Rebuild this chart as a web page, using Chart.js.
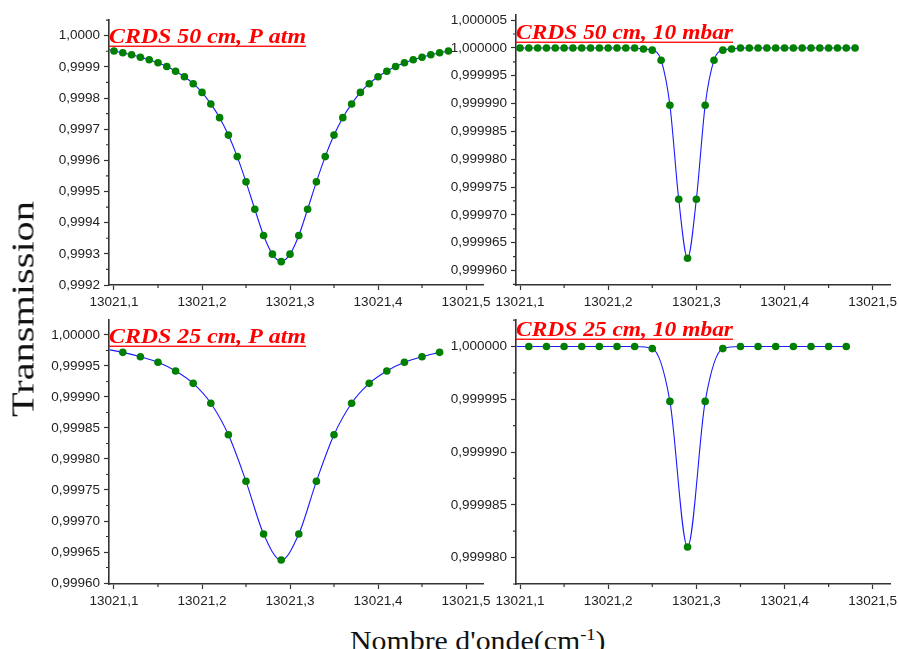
<!DOCTYPE html>
<html>
<head>
<meta charset="utf-8">
<script src="https://cdn.jsdelivr.net/npm/chart.js@4.4.0/dist/chart.umd.min.js"></script>
<style>
  body { margin: 0; background: #fff; width: 899px; height: 649px; overflow: hidden; position: relative; }
  .box { position: absolute; }
  .axt { position: absolute; left: 0; top: 0; transform-origin: 0 0; line-height: 1;
         font-family: 'Liberation Serif', 'DejaVu Serif', serif; color: #111; white-space: nowrap; }
  .axt sup { font-size: 62%; vertical-align: 0.55em; line-height: 0; }
</style>
</head>
<body>
<div class="box" id="b1"><canvas id="c1"></canvas></div>
<div class="box" id="b2"><canvas id="c2"></canvas></div>
<div class="box" id="b3"><canvas id="c3"></canvas></div>
<div class="box" id="b4"><canvas id="c4"></canvas></div>
<div class="axt" id="ytitle" style="font-size:31px">Transmission</div>
<div class="axt" id="xtitle" style="font-size:28px">Nombre d'onde(cm<sup>-1</sup>)</div>

<script>
// wavenumber grids (cm-1)
const xFine = [13021.10, 13021.11, 13021.12, 13021.13, 13021.14, 13021.15, 13021.16, 13021.17,
  13021.18, 13021.19, 13021.20, 13021.21, 13021.22, 13021.23, 13021.24, 13021.25, 13021.26,
  13021.27, 13021.28, 13021.29, 13021.30, 13021.31, 13021.32, 13021.33, 13021.34, 13021.35,
  13021.36, 13021.37, 13021.38, 13021.39, 13021.40, 13021.41, 13021.42, 13021.43, 13021.44,
  13021.45, 13021.46, 13021.47, 13021.48];
const xCoarse = [13021.11, 13021.13, 13021.15, 13021.17, 13021.19, 13021.21, 13021.23, 13021.25,
  13021.27, 13021.29, 13021.31, 13021.33, 13021.35, 13021.37, 13021.39, 13021.41, 13021.43,
  13021.45, 13021.47];

// CRDS 50 cm, P atm
const trans50atm = [0.999951, 0.999945, 0.999939, 0.999931, 0.999923, 0.999913, 0.999901, 0.999886,
  0.999868, 0.999846, 0.999818, 0.999781, 0.999737, 0.999681, 0.999612, 0.999531, 0.999443,
  0.999359, 0.999299, 0.999275, 0.999299, 0.999359, 0.999443, 0.999531, 0.999612, 0.999681,
  0.999737, 0.999781, 0.999818, 0.999846, 0.999868, 0.999886, 0.999901, 0.999913, 0.999923,
  0.999931, 0.999939, 0.999945, 0.999951];
// CRDS 50 cm, 10 mbar
const trans50mbar = [1.0, 1.0, 1.0, 1.0, 1.0, 1.0, 1.0, 1.0, 1.0, 1.0, 1.0, 1.0, 1.0, 1.0,
  0.9999998, 0.9999996, 0.9999978, 0.9999897, 0.9999728, 0.9999622, 0.9999728, 0.9999897,
  0.9999978, 0.9999996, 0.9999998,
  1.0, 1.0, 1.0, 1.0, 1.0, 1.0, 1.0, 1.0, 1.0, 1.0, 1.0, 1.0, 1.0, 1.0];
// CRDS 25 cm, P atm
const trans25atm = [0.999972, 0.999965, 0.999956, 0.999942, 0.999922, 0.999890, 0.999839, 0.999764,
  0.999679, 0.999637, 0.999679, 0.999764, 0.999839, 0.999890, 0.999922, 0.999942, 0.999956,
  0.999965, 0.999972];
// CRDS 25 cm, 10 mbar
const trans25mbar = [1.0, 1.0, 1.0, 1.0, 1.0, 1.0, 1.0, 0.9999998, 0.9999948, 0.9999810,
  0.9999948, 0.9999998, 1.0, 1.0, 1.0, 1.0, 1.0, 1.0, 1.0];

// where the fitted curve meets the left axis
const fitStartX = [13021.094, 13021.096, 13021.095, 13021.096];
const fitStartY = [0.999956, 1.0, 0.999976, 1.0];

const xTicks = [13021.1, 13021.2, 13021.3, 13021.4, 13021.5];
const yTicks50atm = [0.9992, 0.9993, 0.9994, 0.9995, 0.9996, 0.9997, 0.9998, 0.9999, 1.0];
const yTicks50mbar = [0.99996, 0.999965, 0.99997, 0.999975, 0.99998, 0.999985, 0.99999, 0.999995, 1.0, 1.000005];
const yTicks25atm = [0.9996, 0.99965, 0.9997, 0.99975, 0.9998, 0.99985, 0.9999, 0.99995, 1.0];
const yTicks25mbar = [0.99998, 0.999985, 0.99999, 0.999995, 1.0];

const titles = ['CRDS 50 cm, P atm', 'CRDS 50 cm, 10 mbar', 'CRDS 25 cm, P atm', 'CRDS 25 cm, 10 mbar'];

const AXW = 100, AXH = 40, PADT = 12, PADR = 12;
const tickFont = { family: "'Liberation Sans', Arial, sans-serif", size: 13.5 };
const comma = (v, d) => v.toFixed(d).replace('.', ',');

// minor ticks halfway between the labelled ones + panel title
const deco = {
  id: 'deco',
  afterDraw(chart, args, o) {
    const ctx = chart.ctx, a = chart.chartArea;
    const xs = chart.scales.x, ys = chart.scales.y;
    const halves = (ticks, s) => {
      const step = ticks[1] - ticks[0], out = [];
      ticks.forEach(v => [v - step / 2, v + step / 2].forEach(m => {
        if (m >= s.min && m <= s.max && !out.some(q => Math.abs(q - m) < step / 10)) out.push(m);
      }));
      return out;
    };
    ctx.save();
    ctx.strokeStyle = '#333';
    ctx.lineWidth = 1.2;
    ctx.beginPath();
    halves(xTicks, xs).forEach(v => {
      const p = xs.getPixelForValue(v);
      ctx.moveTo(p, a.bottom); ctx.lineTo(p, a.bottom + 3);
    });
    halves(o.yTicks, ys).forEach(v => {
      const p = ys.getPixelForValue(v);
      ctx.moveTo(a.left, p); ctx.lineTo(a.left - 3, p);
    });
    ctx.stroke();

    ctx.font = "italic bold 22px 'Liberation Serif', serif";
    ctx.fillStyle = '#ff0000';
    ctx.textBaseline = 'alphabetic';
    const w = ctx.measureText(o.text).width;
    ctx.translate(a.left, a.top + o.base);
    ctx.scale(o.width / w, 1);
    ctx.fillText(o.text, 0, 0);
    ctx.restore();
    ctx.save();
    ctx.fillStyle = '#ff0000';
    ctx.fillRect(a.left, a.top + o.base + 2.5, o.width, 1.3);
    ctx.restore();
  }
};

function makePanel(n, xs, ys, box, range, yTicks, dec, title) {
  const L = box[0], R = box[1], T = box[2], B = box[3];
  const div = document.getElementById('b' + n);
  const cv = document.getElementById('c' + n);
  const W = Math.round(R - L + AXW + PADR), H = Math.round(B - T + PADT + AXH);
  div.style.left = (L - AXW) + 'px';
  div.style.top = (T - PADT) + 'px';
  cv.width = W; cv.height = H;

  const pts = xs.map((x, i) => ({ x: x, y: ys[i] }));
  const fit = [{ x: fitStartX[n - 1], y: fitStartY[n - 1] }].concat(pts);

  new Chart(cv, {
    type: 'scatter',
    data: {
      datasets: [
        { data: pts, backgroundColor: '#008000', borderColor: '#008000', pointRadius: 3.8,
          pointBorderWidth: 0, showLine: false, order: 0 },
        { type: 'line', data: fit, borderColor: '#1a1aff', borderWidth: 1.1, pointRadius: 0,
          cubicInterpolationMode: 'monotone', fill: false, order: 1 }
      ]
    },
    options: {
      responsive: false,
      animation: false,
      events: [],
      layout: { padding: { left: 0, top: PADT, right: PADR, bottom: 0 } },
      plugins: {
        legend: { display: false },
        tooltip: { enabled: false },
        deco: { yTicks: yTicks, text: title[0], width: title[1], base: title[2] }
      },
      scales: {
        x: {
          type: 'linear', min: range[0], max: range[1],
          afterBuildTicks: s => { s.ticks = xTicks.map(v => ({ value: v })); },
          afterFit: s => { s.height = AXH; },
          ticks: { font: tickFont, color: '#222', padding: 4, maxRotation: 0, autoSkip: false,
                   callback: v => comma(v, 1) },
          grid: { drawOnChartArea: false, tickLength: 5, tickColor: '#333', tickWidth: 1.2 },
          border: { color: '#333', width: 1.6 }
        },
        y: {
          type: 'linear', min: range[2], max: range[3],
          afterBuildTicks: s => { s.ticks = yTicks.map(v => ({ value: v })); },
          afterFit: s => { s.width = AXW; },
          ticks: { font: tickFont, color: '#222', padding: 4, autoSkip: false,
                   callback: v => comma(v, dec) },
          grid: { drawOnChartArea: false, tickLength: 5, tickColor: '#333', tickWidth: 1.2 },
          border: { color: '#333', width: 1.6 }
        }
      }
    },
    plugins: [deco]
  });
}

makePanel(1, xFine, trans50atm, [109, 483, 20, 285],
  [13021.09432, 13021.5193, 0.9992, 1.00005], yTicks50atm, 4, [titles[0], 197, 23]);
makePanel(2, xFine, trans50mbar, [516, 890, 15, 285],
  [13021.09546, 13021.5196, 0.9999574, 1.0000059], yTicks50mbar, 6, [titles[1], 217, 24]);
makePanel(3, xCoarse, trans25atm, [109, 483, 320, 584],
  [13021.09432, 13021.5193, 0.9995984, 1.000024], yTicks25atm, 5, [titles[2], 197, 23]);
makePanel(4, xCoarse, trans25mbar, [516, 890, 320, 584],
  [13021.09546, 13021.5196, 0.9999775, 1.0000025], yTicks25mbar, 6, [titles[3], 217, 16]);

// axis titles shared by the four panels
function place(id, cx, cy, width, rot) {
  const el = document.getElementById(id);
  const w = el.offsetWidth, h = el.offsetHeight;
  const k = width / w;
  el.style.transform = 'translate(' + cx + 'px,' + cy + 'px) rotate(' + rot + 'deg) scaleX(' + k + ') translate(' + (-w / 2) + 'px,' + (-h / 2) + 'px)';
}
place('ytitle', 23, 309, 216, -90);
place('xtitle', 478, 641, 256, 0);
</script>
</body>
</html>
